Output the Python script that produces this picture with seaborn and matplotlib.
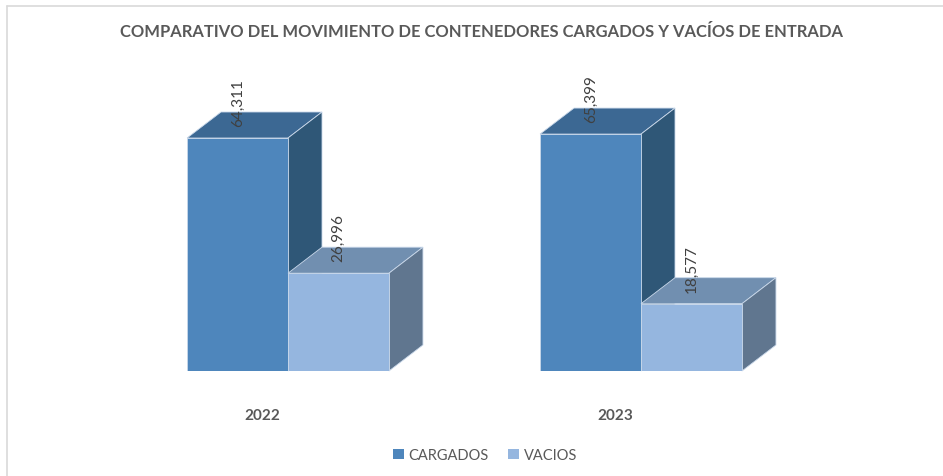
import matplotlib
matplotlib.use("Agg")
import matplotlib.pyplot as plt
import matplotlib.transforms as mtransforms
from matplotlib.patches import Polygon, Rectangle
from matplotlib.lines import Line2D
import seaborn as sns
import pandas as pd
import numpy as np

# ---- data ----
years = ["2022", "2023"]
series = ["CARGADOS", "VACIOS"]
cargados = [64311, 65399]
vacios = [26996, 18577]
title = "COMPARATIVO DEL MOVIMIENTO DE CONTENEDORES CARGADOS Y VACÍOS DE ENTRADA"

df = pd.DataFrame({
    "year": years * 2,
    "serie": [series[0]] * len(years) + [series[1]] * len(years),
    "value": cargados + vacios,
})

sns.set_theme(style="white")
plt.rcParams["font.family"] = ["Lato", "DejaVu Sans"]

front = {"CARGADOS": "#4E86BC", "VACIOS": "#95B6DF"}
topc = {"CARGADOS": "#3C6893", "VACIOS": "#718FB0"}
sidec = {"CARGADOS": "#2F5777", "VACIOS": "#60768F"}
edge = "#C9D8EA"
txt = "#595959"

W, H = 943, 477
fig = plt.figure(figsize=(W / 100, H / 100), dpi=100)
# axes: bottom at baseline pixel 372 from top, top at pixel 60
ax = fig.add_axes([0, (H - 372) / H, 1, (372 - 60) / H])
sns.barplot(data=df, x="year", y="value", hue="serie", order=years,
            hue_order=series, palette=front, width=0.572, dodge=True,
            saturation=1, ax=ax, legend=False, edgecolor=edge, linewidth=0.6)

ax.set_xlim(-288 / 353, (W - 288) / 353)
ax.set_ylim(0, (372 - 60) / 0.003623)
for s in ax.spines.values():
    s.set_visible(False)
ax.set_yticks([])
ax.set_xlabel("")
ax.set_ylabel("")
ax.tick_params(axis="x", length=0, pad=27, labelsize=11, labelcolor=txt)
for lab in ax.get_xticklabels():
    lab.set_fontweight("bold")
    lab.set_transform(lab.get_transform() +
                      mtransforms.ScaledTranslation(-26 / 100, 0, fig.dpi_scale_trans))

fig.canvas.draw()

# depth offset in pixels
ddx, ddy = 34, 26
n = len(years)
inv = ax.transData.inverted()
for i, bar in enumerate(ax.patches[: 2 * n]):
    si = i // n
    name = series[si]
    z = 2 + si * 2
    bar.set_zorder(z + 0.5)
    x0, y0 = bar.get_x(), bar.get_y()
    x1, y1 = x0 + bar.get_width(), y0 + bar.get_height()
    (px0, py0), (px1, py1) = ax.transData.transform([(x0, y0), (x1, y1)])
    top_face = [(px0, py1), (px1, py1), (px1 + ddx, py1 + ddy), (px0 + ddx, py1 + ddy)]
    side_face = [(px1, py0), (px1, py1), (px1 + ddx, py1 + ddy), (px1 + ddx, py0 + ddy)]
    for face, col in ((top_face, topc[name]), (side_face, sidec[name])):
        ax.add_patch(Polygon(inv.transform(face), closed=True, facecolor=col,
                             edgecolor=edge, linewidth=0.6, zorder=z, clip_on=False))
    val = bar.get_height()
    ax.annotate(f"{val:,.0f}", xy=((x0 + x1) / 2, y1), xytext=(0, 12 / 100 * 72),
                textcoords="offset points", rotation=90, ha="center", va="bottom",
                fontsize=11, color="#404040", zorder=10, annotation_clip=False)

fig.text(481 / W, 1 - 32 / H, title, ha="center", va="center",
         fontsize=11.9, fontweight="bold", color=txt)

handles = [Rectangle((0, 0), 1, 1, facecolor=front[s], edgecolor="none") for s in series]
fig.legend(handles, series, loc="center", bbox_to_anchor=(485 / W, 1 - 456 / H),
           ncol=2, frameon=False, fontsize=10.5, labelcolor=txt,
           handlelength=0.75, handleheight=0.75, handletextpad=0.35,
           columnspacing=1.3)

# chart frame (light gray)
fig.add_artist(Line2D([6.5 / W, 6.5 / W], [0, 1 - 6.5 / H], color="#D9D9D9", lw=1.2))
fig.add_artist(Line2D([6.5 / W, 1], [1 - 6.5 / H, 1 - 6.5 / H], color="#D9D9D9", lw=1.2))

fig.savefig("out.png", dpi=100, facecolor="white")
